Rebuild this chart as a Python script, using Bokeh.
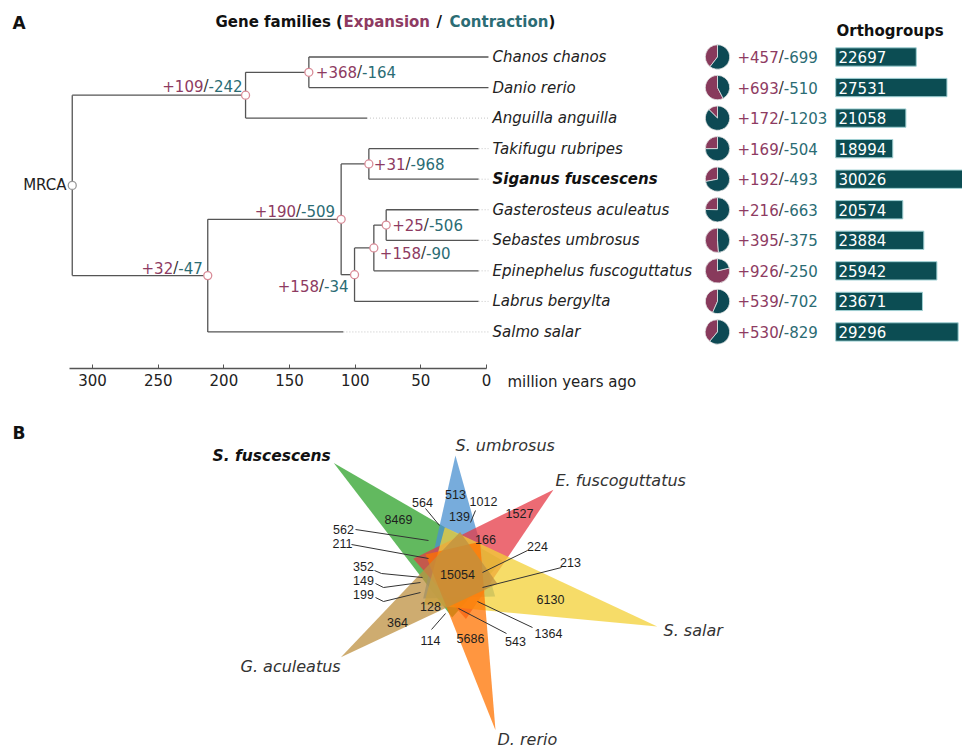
import math
from bokeh.plotting import figure
from bokeh.models import Range1d, FixedTicker
from bokeh.layouts import column
from bokeh.embed import file_html
from bokeh.resources import INLINE
from bokeh.core.properties import value

# ---------------- data: panel A ----------------
species = ["Chanos chanos", "Danio rerio", "Anguilla anguilla", "Takifugu rubripes",
           "Siganus fuscescens", "Gasterosteus aculeatus", "Sebastes umbrosus",
           "Epinephelus fuscoguttatus", "Labrus bergylta", "Salmo salar"]
expansion = [457, 693, 172, 169, 192, 216, 395, 926, 539, 530]
contraction = [699, 510, 1203, 504, 493, 663, 375, 250, 702, 829]
orthogroups = [22697, 27531, 21058, 18994, 30026, 20574, 23884, 25942, 23671, 29296]
tip_line_end = [-1.5, -1.5, 91, 6, 6, 6, 6, 6, 6, 109]   # Mya where solid branch ends

node_names = ["MRCA", "N1", "N_CD", "N2", "N_perc", "N_TS", "N_GSEL", "N_GSE", "N_GS"]
node_ages = [315.5, 183.5, 135.3, 212.3, 110.7, 89.6, 100.5, 85.8, 76.4]
node_children = [["N1", "N2"], ["N_CD", "Anguilla anguilla"], ["Chanos chanos", "Danio rerio"],
                 ["N_perc", "Salmo salar"], ["N_TS", "N_GSEL"],
                 ["Takifugu rubripes", "Siganus fuscescens"], ["N_GSE", "Labrus bergylta"],
                 ["N_GS", "Epinephelus fuscoguttatus"],
                 ["Gasterosteus aculeatus", "Sebastes umbrosus"]]
node_expansion = [None, 109, 368, 32, 190, 31, 158, 158, 25]
node_contraction = [None, 242, 164, 47, 509, 968, 34, 90, 506]
time_ticks = [0, 50, 100, 150, 200, 250, 300]

# ---------------- data: panel B ----------------
venn_species = ["S. fuscescens", "S. umbrosus", "E. fuscoguttatus", "S. salar", "D. rerio", "G. aculeatus"]
venn_unique = [8469, 513, 1527, 6130, 5686, 364]
venn_core = [15054]
venn_shared = [564, 1012, 139, 166, 562, 211, 224, 213, 352, 149, 199, 128, 114, 543, 1364]

# ---------------- styles / layout ----------------
EXP = "#8e3b62"
CON = "#2b6c74"
DARK = "#333333"
PIE_EXP = "#883a5c"
PIE_CON = "#0d4954"
BAR = "#0c4d53"
FONT = value("DejaVu Sans")
FS = "15px"

W = 962
HA = 390
HB = 360
SHIFT_B = 5
TOP0, ROW = 56.5, 30.55       # page y of first row, row spacing
PX0, PXMY = 486.0, 1.313      # page x of 0 Mya, px per Mya
OG_ZERO, OG_K = 771.7, 0.006348
OG_BASE = 10000


def tw(s, size=15.0):
    em = {'+': 0.838, '-': 0.361, '/': 0.337}
    return sum(em.get(c, 0.636) for c in s) * size


# ================= Panel A =================
pA = figure(width=W, height=HA, output_backend="svg", toolbar_location=None,
            x_range=Range1d(PX0 / PXMY, (PX0 - W) / PXMY),
            y_range=Range1d((HA - TOP0) / ROW, (0 - TOP0) / ROW),
            y_axis_location=None, min_border=0, outline_line_color=None)
pA.extra_x_ranges = {"px": Range1d(0, W),
                     "og": Range1d((0 - OG_ZERO) / OG_K, (W - OG_ZERO) / OG_K)}
pA.extra_y_ranges = {"py": Range1d(HA, 0)}
pA.grid.visible = False

# tree geometry
ypos = {s: float(i) for i, s in enumerate(species)}
age = {s: 0.0 for s in species}
line_end = dict(zip(species, tip_line_end))
for nm, a in zip(node_names, node_ages):
    age[nm] = a
    line_end[nm] = a
kids = dict(zip(node_names, node_children))


def gety(n):
    if n not in ypos:
        ypos[n] = sum(gety(c) for c in kids[n]) / len(kids[n])
    return ypos[n]


for n in node_names:
    gety(n)

hx0, hx1, hy, vx, vy0, vy1 = [], [], [], [], [], []
for n in node_names:
    cy = [ypos[c] for c in kids[n]]
    vx.append(age[n]); vy0.append(min(cy)); vy1.append(max(cy))
    for c in kids[n]:
        hx0.append(age[n]); hx1.append(line_end[c]); hy.append(ypos[c])
pA.segment(x0=hx0, y0=hy, x1=hx1, y1=hy, line_color="#555555", line_width=1.3)
pA.segment(x0=vx, y0=vy0, x1=vx, y1=vy1, line_color="#555555", line_width=1.3)

# dotted extensions to the labels
dx0, dyy = [], []
for s in species:
    if line_end[s] > 0:
        dx0.append(line_end[s]); dyy.append(ypos[s])
pA.segment(x0=dx0, y0=dyy, x1=[-1.5] * len(dx0), y1=dyy, line_color="#c4c4c4",
           line_width=1, line_dash="1 2")

# node circles
nc_line = ["#9a9a9a"] + ["#d98c98"] * (len(node_names) - 1)
pA.scatter(x=[age[n] for n in node_names], y=[ypos[n] for n in node_names], size=8,
           marker="circle", fill_color="white", line_color=nc_line, line_width=1.3)

# node labels (+exp / -con)
place = {"N1": ("right", -3, -9), "N_CD": ("left", 7, 0), "N2": ("right", -5, -8),
         "N_perc": ("right", -6, -8), "N_TS": ("left", 5, 0), "N_GSEL": ("right", -6, 11),
         "N_GSE": ("left", 6, 5), "N_GS": ("left", 6, 0)}
tx, ty, tt, tc = [], [], [], []


def add_pair(x_left, y_page, e, c):
    s1, s2, s3 = f"+{e}", "/", f"-{c}"
    x = x_left
    for s, col in ((s1, EXP), (s2, DARK), (s3, CON)):
        tx.append(x); ty.append(y_page); tt.append(s); tc.append(col)
        x += tw(s)


for n, e, c in zip(node_names, node_expansion, node_contraction):
    if e is None:
        continue
    al, ddx, ddy = place[n]
    nx = PX0 - PXMY * age[n]
    ny = TOP0 + ROW * ypos[n] + ddy
    total = tw(f"+{e}") + tw("/") + tw(f"-{c}")
    x_left = nx + ddx if al == "left" else nx + ddx - total
    add_pair(x_left, ny, e, c)

# tip labels: +exp/-con next to pies
for i, (e, c) in enumerate(zip(expansion, contraction)):
    add_pair(737, TOP0 + ROW * i, e, c)

pA.text(x=tx, y=ty, text=tt, text_color=tc, text_font=FONT, text_font_size=FS,
        text_align="left", text_baseline="middle", x_range_name="px", y_range_name="py")

# species names
rows = list(range(len(species)))
reg = [i for i, s in enumerate(species) if s != "Siganus fuscescens"]
pA.text(x=[492] * len(reg), y=[rows[i] for i in reg], text=[species[i] for i in reg],
        text_font=FONT, text_font_size=FS, text_font_style="italic", text_color="#222222",
        text_align="left", text_baseline="middle", x_range_name="px")
bi = species.index("Siganus fuscescens")
pA.text(x=[492], y=[rows[bi]], text=[species[bi]], text_font=FONT, text_font_size=FS,
        text_font_style="bold italic", text_color="#111111", text_align="left",
        text_baseline="middle", x_range_name="px")

# MRCA label
pA.text(x=[66], y=[TOP0 + ROW * ypos["MRCA"]], text=["MRCA"], text_font=FONT,
        text_font_size=FS, text_color="#222222", text_align="right", text_baseline="middle",
        x_range_name="px", y_range_name="py")

# pies
frac = [e / (e + c) for e, c in zip(expansion, contraction)]
a0 = [math.pi / 2] * len(frac)
a1 = [math.pi / 2 + 2 * math.pi * f for f in frac]
a2 = [math.pi / 2 + 2 * math.pi] * len(frac)
pA.wedge(x=[717] * len(frac), y=rows, radius=12.2, radius_units="screen", start_angle=a0,
         end_angle=a1, fill_color=PIE_EXP, line_color="#e6e6e6", line_width=0.8, x_range_name="px")
pA.wedge(x=[717] * len(frac), y=rows, radius=12.2, radius_units="screen", start_angle=a1,
         end_angle=a2, fill_color=PIE_CON, line_color="#e6e6e6", line_width=0.8, x_range_name="px")

# orthogroup bars
pA.hbar(y=rows, left=OG_BASE, right=orthogroups, height=0.6, fill_color=BAR,
        line_color="#9fd0d3", line_width=1, x_range_name="og")
pA.text(x=[838] * len(rows), y=rows, text=[str(v) for v in orthogroups], text_font=FONT,
        text_font_size=FS, text_color="white", text_align="left", text_baseline="middle",
        x_range_name="px")

# titles
title_parts = [("Gene families (", 215, "#111111"), ("Expansion", 343, EXP), ("/", 436, "#111111"),
               ("Contraction", 449, CON), (")", 548, "#111111")]
pA.text(x=[t[1] for t in title_parts], y=[21] * len(title_parts), text=[t[0] for t in title_parts],
        text_color=[t[2] for t in title_parts], text_font=FONT, text_font_size=FS,
        text_font_style="bold", text_align="left", text_baseline="middle",
        x_range_name="px", y_range_name="py")
pA.text(x=[836], y=[30], text=["Orthogroups"], text_font=FONT, text_font_size=FS,
        text_font_style="bold", text_color="#111111", text_align="left", text_baseline="middle",
        x_range_name="px", y_range_name="py")
pA.text(x=[12], y=[22], text=["A"], text_font=FONT, text_font_size="17px",
        text_font_style="bold", text_color="#111111", text_align="left", text_baseline="middle",
        x_range_name="px", y_range_name="py")
pA.text(x=[507], y=[381], text=["million years ago"], text_font=FONT, text_font_size=FS,
        text_color="#222222", text_align="left", text_baseline="middle",
        x_range_name="px", y_range_name="py")

# time axis
ax = pA.xaxis[0]
ax.fixed_location = (368 - TOP0) / ROW
ax.ticker = FixedTicker(ticks=time_ticks)
ax.bounds = (0, 317.6)
ax.major_tick_in = 4
ax.major_tick_out = 0
ax.minor_tick_in = 0
ax.minor_tick_out = 0
ax.axis_line_color = "#555555"
ax.axis_line_width = 1.3
ax.major_tick_line_color = "#555555"
ax.major_label_text_font = "DejaVu Sans"
ax.major_label_text_font_size = FS
ax.major_label_text_color = "#222222"
ax.major_label_standoff = 5

# ================= Panel B =================
pB = figure(width=W, height=HB, output_backend="svg", toolbar_location=None,
            x_range=Range1d(0, W), y_range=Range1d(HA + HB + SHIFT_B, HA + SHIFT_B),
            x_axis_location=None, y_axis_location=None, min_border=0, outline_line_color=None)
pB.grid.visible = False

CENTER = (458, 577)
PETAL_ANGLE = [-138.7, -91.5, -41.1, 15.2, 76.8, 144.2]
PETAL_LEN = [166, 117, 126, 206, 162, 145]
PETAL_HALF = [38, 36, 40, 40, 28, 32]
PETAL_BACK = 25
PETAL_COLORS = ["#2ea12a", "#4a90d0", "#e63a46", "#f3d035", "#ff7300", "#bd9040"]
PETAL_ORDER = [0, 1, 2, 3, 4, 5]

xs, ys, cols = [], [], []
for k in PETAL_ORDER:
    a = math.radians(PETAL_ANGLE[k])
    ux, uy = math.cos(a), math.sin(a)
    nx, ny = -uy, ux
    tipx, tipy = CENTER[0] + PETAL_LEN[k] * ux, CENTER[1] + PETAL_LEN[k] * uy
    bx, by = CENTER[0] - PETAL_BACK * ux, CENTER[1] - PETAL_BACK * uy
    h = PETAL_HALF[k]
    xs.append([tipx, bx + h * nx, bx - h * nx])
    ys.append([tipy, by + h * ny, by - h * ny])
    cols.append(PETAL_COLORS[k])
pB.patches(xs=xs, ys=ys, fill_color=cols, fill_alpha=0.75, line_color=None)

SPECIES_LABEL_POS = [(212, 460), (455, 450), (555, 485), (663, 635), (497, 744), (240, 671)]
UNIQUE_POS = [(398, 524), (455, 499), (519, 518), (550, 604), (470, 643), (397, 627)]
CORE_POS = [(457, 579)]
SHARED_POS = [(422, 507), (483, 506), (459, 521), (485, 544), (343, 534), (342, 548),
              (537, 551), (570, 567), (363, 571), (363, 585), (363, 599), (430, 611),
              (430, 645), (515, 646), (548, 638)]
LEADERS = [[(425, 513), (439, 530)], [(475, 515), (470, 527)], None, None,
           [(355, 534), (428, 545)], [(351, 549), (428, 563)],
           [(527, 555), (482, 577)], [(561, 572), (482, 592)],
           [(374, 575), (381, 578), (422, 582)], [(375, 588), (383, 592), (420, 587)],
           [(375, 602), (383, 606), (420, 597)], None,
           [(431, 634), (445, 618)], [(506, 638), (458, 613)], [(532, 632), (477, 606)]]

lx, ly = [], []
for ld in LEADERS:
    if ld:
        lx.append([p[0] for p in ld]); ly.append([p[1] for p in ld])
pB.multi_line(xs=lx, ys=ly, line_color="#333333", line_width=1)

num_font = value("Liberation Sans")
cnt_vals = venn_unique + venn_core + venn_shared
cnt_pos = UNIQUE_POS + CORE_POS + SHARED_POS
pB.text(x=[p[0] for p in cnt_pos], y=[p[1] for p in cnt_pos], text=[str(v) for v in cnt_vals],
        text_font=num_font, text_font_size="12.5px", text_color="#1e1e1e",
        text_align="center", text_baseline="middle")

reg = [i for i in range(len(venn_species)) if i != 0]
pB.text(x=[SPECIES_LABEL_POS[i][0] for i in reg], y=[SPECIES_LABEL_POS[i][1] for i in reg],
        text=[venn_species[i] for i in reg], text_font=FONT, text_font_size="16px",
        text_font_style="italic", text_color="#333333", text_align="left", text_baseline="middle")
pB.text(x=[SPECIES_LABEL_POS[0][0]], y=[SPECIES_LABEL_POS[0][1]], text=[venn_species[0]],
        text_font=FONT, text_font_size="15.5px", text_font_style="bold italic",
        text_color="#111111", text_align="left", text_baseline="middle")
pB.text(x=[12], y=[437], text=["B"], text_font=FONT, text_font_size="17px",
        text_font_style="bold", text_color="#111111", text_align="left", text_baseline="middle")

layout = column(pA, pB, spacing=0)
open("out.html", "w").write(file_html(layout, INLINE))
